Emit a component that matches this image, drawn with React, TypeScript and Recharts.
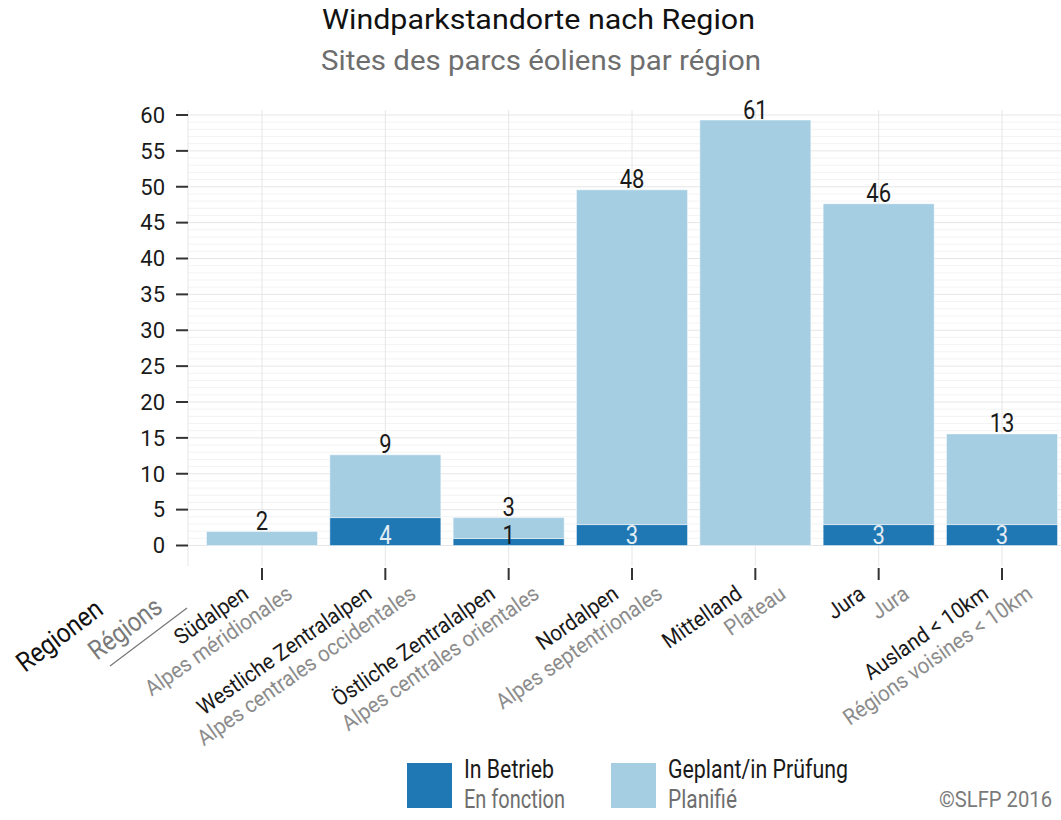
import React from 'react';
import { BarChart, Bar, XAxis, YAxis, CartesianGrid, LabelList } from 'recharts';

const regionsDe = [
  'Südalpen',
  'Westliche Zentralalpen',
  'Östliche Zentralalpen',
  'Nordalpen',
  'Mittelland',
  'Jura',
  'Ausland < 10km',
];
const regionsFr = [
  'Alpes méridionales',
  'Alpes centrales occidentales',
  'Alpes centrales orientales',
  'Alpes septentrionales',
  'Plateau',
  'Jura',
  'Régions voisines < 10km',
];
const inBetrieb = [0, 4, 1, 3, 0, 3, 3];
const geplant = [2, 9, 3, 48, 61, 46, 13];
const yTicks = [0, 5, 10, 15, 20, 25, 30, 35, 40, 45, 50, 55, 60];

const seriesDe = ['In Betrieb', 'Geplant/in Prüfung'];
const seriesFr = ['En fonction', 'Planifié'];
const titleDe = 'Windparkstandorte nach Region';
const titleFr = 'Sites des parcs éoliens par région';
const axisDe = 'Regionen';
const axisFr = 'Régions';
const credit = '©SLFP 2016';

const FONT = 'Roboto, "DejaVu Sans", sans-serif';
const DARK = '#1f78b4';
const LIGHT = '#a6cee3';
const INK = '#1a1a1a';
const GREY = '#7a7a7a';

const data = regionsDe.map((de, i) => ({ de, fr: regionsFr[i], op: inBetrieb[i], pl: geplant[i] }));
const minorLines = Array.from({ length: 61 }, (_, i) => i).filter((v) => v % 5 !== 0);

function labelValue(props: any, key: 'op' | 'pl') {
  const p = props.payload;
  if (p && typeof p[key] === 'number') return p[key];
  const v = props.value;
  if (Array.isArray(v)) return v[1] - v[0];
  return v;
}

function XTick(props: any) {
  const { x, y, payload } = props;
  const i = regionsDe.indexOf(payload.value);
  return (
    <g>
      <line x1={x} x2={x} y1={y + 2} y2={y + 14} stroke="#333" strokeWidth={2} />
      <text
        transform={`translate(${x - 12},${y + 31}) rotate(-35) scale(0.93,1)`}
        textAnchor="end"
        fontSize={22}
        fill={INK}
      >
        {regionsDe[i]}
      </text>
      <text
        transform={`translate(${x + 32},${y + 31}) rotate(-35) scale(0.93,1)`}
        textAnchor="end"
        fontSize={22}
        fill="#8c8c8c"
      >
        {regionsFr[i]}
      </text>
    </g>
  );
}

function TopLabel(props: any) {
  const { x, y, width } = props;
  const v = labelValue(props, 'pl');
  return (
    <text
      transform={`translate(${x + width / 2},${y - 1.5}) scale(0.88,1)`}
      textAnchor="middle"
      fontSize={25}
      fill={INK}
    >
      {v}
    </text>
  );
}

function OpLabel(props: any) {
  const { x, y, width, height } = props;
  const v = labelValue(props, 'op');
  if (!v) return null;
  return (
    <text
      transform={`translate(${x + width / 2},${y + height - 2}) scale(0.88,1)`}
      textAnchor="middle"
      fontSize={25}
      fill={v > 1 ? '#e4edf3' : INK}
    >
      {v}
    </text>
  );
}

export default function App() {
  return (
    <div
      style={{
        position: 'absolute',
        left: 0,
        top: 0,
        width: 1061,
        height: 820,
        overflow: 'hidden',
        background: '#fff',
        fontFamily: FONT,
      }}
    >
      <BarChart
        width={1100}
        height={820}
        data={data}
        margin={{ top: 110, right: 24, bottom: 0, left: 0 }}
        barCategoryGap="5%"
      >
        <CartesianGrid horizontalValues={minorLines} vertical={false} stroke="#f3f3f3" strokeWidth={1} />
        <CartesianGrid horizontalValues={yTicks} stroke="#e6e6e6" strokeWidth={1} />
        <XAxis
          dataKey="de"
          type="category"
          interval={0}
          tickLine={false}
          axisLine={false}
          tickSize={0}
          tickMargin={0}
          height={254}
          padding={{ left: 12.33, right: 12.33 }}
          tick={(p: any) => <XTick {...p} />}
        />
        <YAxis
          type="number"
          domain={[-2.857, 60.697]}
          allowDataOverflow
          ticks={yTicks}
          interval={0}
          width={188}
          axisLine={false}
          tickSize={12}
          tickMargin={11}
          tickLine={{ stroke: '#333', strokeWidth: 2 }}
          tick={{ fontSize: 22, fill: INK, fontFamily: FONT }}
        />
        <YAxis yAxisId="b" type="number" domain={[-2.939, 62.445]} allowDataOverflow hide />
        <Bar
          dataKey="op"
          name={seriesDe[0]}
          stackId="s"
          yAxisId="b"
          fill={DARK}
          stroke="#ffffff"
          strokeOpacity={0.45}
          strokeWidth={1}
          isAnimationActive={false}
        >
          <LabelList dataKey="op" content={(p: any) => <OpLabel {...p} />} />
        </Bar>
        <Bar
          dataKey="pl"
          name={seriesDe[1]}
          stackId="s"
          yAxisId="b"
          fill={LIGHT}
          stroke="#ffffff"
          strokeOpacity={0.45}
          strokeWidth={1}
          isAnimationActive={false}
        >
          <LabelList dataKey="pl" content={(p: any) => <TopLabel {...p} />} />
        </Bar>
      </BarChart>
      <svg
        width={1061}
        height={820}
        style={{ position: 'absolute', left: 0, top: 0, pointerEvents: 'none', fontFamily: FONT }}
      >
        <text x={538.5} y={29} textAnchor="middle" fontSize={27} fill="#111" textLength={433} lengthAdjust="spacingAndGlyphs">
          {titleDe}
        </text>
        <text x={541} y={70} textAnchor="middle" fontSize={27} fill="#6e6e6e" textLength={440} lengthAdjust="spacingAndGlyphs">
          {titleFr}
        </text>
        <text transform="translate(25,673) rotate(-37)" fontSize={27} fill="#111" textLength={100} lengthAdjust="spacingAndGlyphs">
          {axisDe}
        </text>
        <text transform="translate(97,661) rotate(-37)" fontSize={27} fill={GREY} textLength={84} lengthAdjust="spacingAndGlyphs">
          {axisFr}
        </text>
        <line x1={110} y1={666} x2={187} y2={608} stroke="#777" strokeWidth={1.2} />

        <rect x={407} y={763} width={45} height={45} fill={DARK} />
        <text x={464} y={778} fontSize={26} fill={INK} textLength={90} lengthAdjust="spacingAndGlyphs">
          {seriesDe[0]}
        </text>
        <text x={464} y={808} fontSize={26} fill="#6e6e6e" textLength={101} lengthAdjust="spacingAndGlyphs">
          {seriesFr[0]}
        </text>
        <rect x={611} y={763} width={45} height={45} fill={LIGHT} />
        <text x={668} y={778} fontSize={26} fill={INK} textLength={180} lengthAdjust="spacingAndGlyphs">
          {seriesDe[1]}
        </text>
        <text x={668} y={808} fontSize={26} fill="#6e6e6e" textLength={69} lengthAdjust="spacingAndGlyphs">
          {seriesFr[1]}
        </text>
        <text x={1052} y={807} textAnchor="end" fontSize={22} fill={GREY} textLength={113} lengthAdjust="spacingAndGlyphs">
          {credit}
        </text>
      </svg>
    </div>
  );
}
